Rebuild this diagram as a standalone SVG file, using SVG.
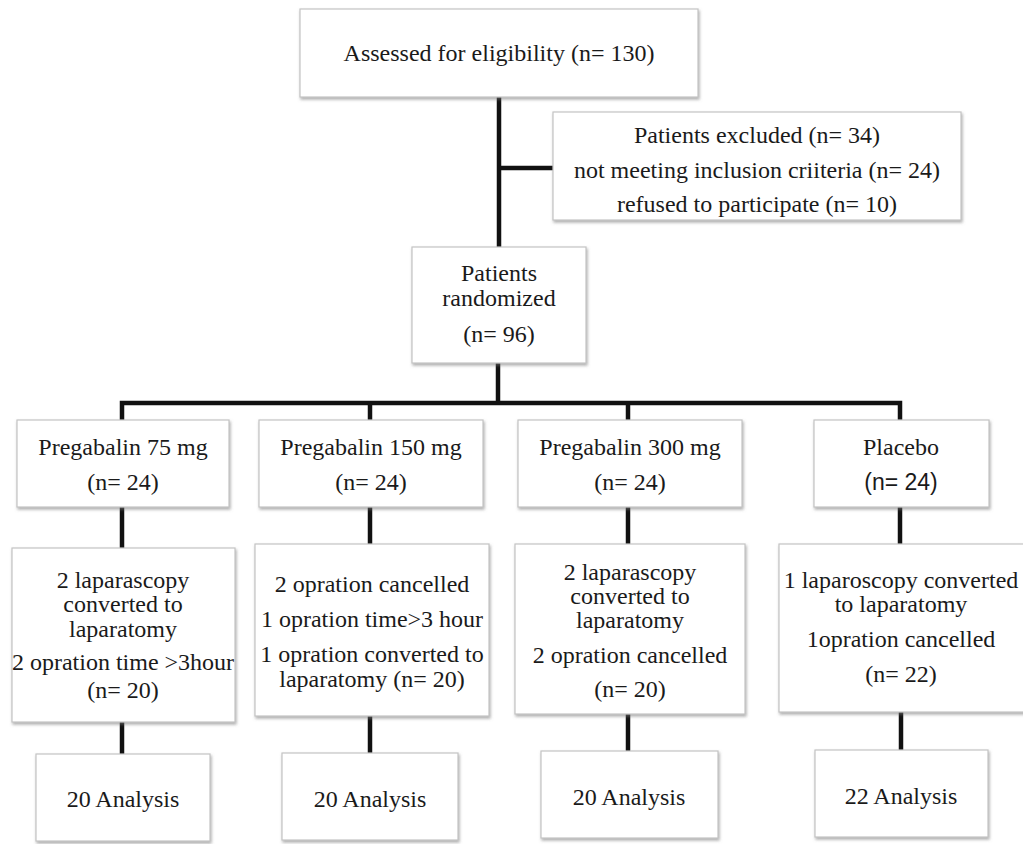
<svg xmlns="http://www.w3.org/2000/svg" width="1023" height="844" viewBox="0 0 1023 844">
<defs>
<filter id="sh" x="-5%" y="-5%" width="112%" height="115%">
<feDropShadow dx="1" dy="2" stdDeviation="1.5" flood-color="#777" flood-opacity="0.6"/>
</filter>
<style>
.box{fill:#fff;stroke:#c4c4c4;stroke-width:1.2;filter:url(#sh)}
.t{font-family:"Liberation Serif","Times New Roman",serif;font-size:24px;fill:#1a1a1a;text-anchor:middle}
.s{font-family:"Liberation Sans",Arial,sans-serif;font-size:23px;fill:#1a1a1a;text-anchor:middle}
.c{stroke:#111;stroke-width:4.5;fill:none}
</style>
</defs>
<rect width="1023" height="844" fill="#fff"/>
<g id="connectors">
<line class="c" x1="499" y1="97" x2="499" y2="247"/>
<line class="c" x1="499" y1="168" x2="553" y2="168"/>
<line class="c" x1="498" y1="363" x2="498" y2="403"/>
<polyline class="c" points="122,420 122,403 900,403 900,420"/>
<line class="c" x1="370" y1="403" x2="370" y2="420"/>
<line class="c" x1="628" y1="403" x2="628" y2="420"/>
<line class="c" x1="122" y1="507" x2="122" y2="548"/>
<line class="c" x1="370" y1="507" x2="370" y2="544"/>
<line class="c" x1="628" y1="507" x2="628" y2="544"/>
<line class="c" x1="900" y1="507" x2="900" y2="544"/>
<line class="c" x1="122" y1="722" x2="122" y2="754"/>
<line class="c" x1="370" y1="716" x2="370" y2="753"/>
<line class="c" x1="628" y1="714" x2="628" y2="751"/>
<line class="c" x1="901" y1="712" x2="901" y2="750"/>
</g>
<g id="assessed">
<rect class="box" x="300" y="9" width="398" height="88"/>
<text class="t" x="499" y="61">Assessed for eligibility (n= 130)</text>
</g>
<g id="excluded">
<rect class="box" x="553" y="112" width="408" height="108"/>
<text class="t" x="757" y="143">Patients excluded (n= 34)</text>
<text class="t" x="757" y="178">not meeting inclusion criiteria (n= 24)</text>
<text class="t" x="757" y="212">refused to participate (n= 10)</text>
</g>
<g id="randomized">
<rect class="box" x="412" y="247" width="174" height="116"/>
<text class="t" x="499" y="281">Patients</text>
<text class="t" x="499" y="306">randomized</text>
<text class="t" x="499" y="342">(n= 96)</text>
</g>
<g id="arm75">
<rect class="box" x="17" y="420" width="212" height="87"/>
<text class="t" x="123" y="455">Pregabalin 75 mg</text>
<text class="t" x="123" y="490">(n= 24)</text>
</g>
<g id="arm150">
<rect class="box" x="259" y="420" width="224" height="87"/>
<text class="t" x="371" y="455">Pregabalin 150 mg</text>
<text class="t" x="371" y="490">(n= 24)</text>
</g>
<g id="arm300">
<rect class="box" x="518" y="420" width="224" height="87"/>
<text class="t" x="630" y="455">Pregabalin 300 mg</text>
<text class="t" x="630" y="490">(n= 24)</text>
</g>
<g id="placebo">
<rect class="box" x="814" y="420" width="175" height="87"/>
<text class="t" x="901" y="455">Placebo</text>
<text class="s" x="901" y="490">(n= 24)</text>
</g>
<g id="excl75">
<rect class="box" x="12" y="548" width="223" height="174"/>
<text class="t" x="123" y="588">2 laparascopy</text>
<text class="t" x="123" y="612">converted to</text>
<text class="t" x="123" y="637">laparatomy</text>
<text class="t" x="123" y="670">2 opration time &gt;3hour</text>
<text class="t" x="123" y="698">(n= 20)</text>
</g>
<g id="excl150">
<rect class="box" x="255" y="544" width="234" height="172"/>
<text class="t" x="372" y="592">2 opration cancelled</text>
<text class="t" x="372" y="627">1 opration time&gt;3 hour</text>
<text class="t" x="372" y="662">1 opration converted to</text>
<text class="t" x="372" y="687">laparatomy (n= 20)</text>
</g>
<g id="excl300">
<rect class="box" x="515" y="544" width="230" height="170"/>
<text class="t" x="630" y="580">2 laparascopy</text>
<text class="t" x="630" y="604">converted to</text>
<text class="t" x="630" y="628">laparatomy</text>
<text class="t" x="630" y="663">2 opration cancelled</text>
<text class="t" x="630" y="697">(n= 20)</text>
</g>
<g id="exclplacebo">
<rect class="box" x="779" y="544" width="260" height="168"/>
<text class="t" x="901" y="588">1 laparoscopy converted</text>
<text class="t" x="901" y="612">to laparatomy</text>
<text class="t" x="901" y="647">1opration cancelled</text>
<text class="t" x="901" y="682">(n= 22)</text>
</g>
<g id="analysis75">
<rect class="box" x="36" y="754" width="174" height="87"/>
<text class="t" x="123" y="807">20 Analysis</text>
</g>
<g id="analysis150">
<rect class="box" x="282" y="753" width="176" height="87"/>
<text class="t" x="370" y="807">20 Analysis</text>
</g>
<g id="analysis300">
<rect class="box" x="541" y="751" width="177" height="87"/>
<text class="t" x="629" y="805">20 Analysis</text>
</g>
<g id="analysisplacebo">
<rect class="box" x="815" y="750" width="173" height="87"/>
<text class="t" x="901" y="804">22 Analysis</text>
</g>
</svg>
